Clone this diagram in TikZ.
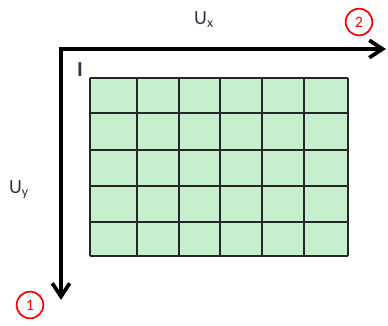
\documentclass[tikz,border=0pt]{standalone}
\usepackage{fontspec}
\setmainfont{Carlito}
\usetikzlibrary{arrows.meta,positioning}
\definecolor{cellgreen}{HTML}{C6EFCE}
\definecolor{labelgray}{HTML}{2E3648}

\begin{document}
\begin{tikzpicture}[
  x=0.75pt, y=-0.75pt,
  axis/.style={line width=3.2pt, line cap=rect,
               -{Straight Barb[length=10pt,width=13pt,line width=2.8pt]}},
  gridline/.style={line width=1.3pt, draw=black!85},
  axislabel/.style={font=\fontsize{15}{17}\selectfont, text=labelgray, inner sep=1pt},
  marker/.style={draw=red, circle, line width=1.3pt, text=red,
                 minimum size=20pt, inner sep=0pt, font=\fontsize{12}{14}\selectfont}
]
\useasboundingbox (0,0) rectangle (388,325);

% cells
\fill[cellgreen] (90,78) rectangle (348,256);
\foreach \x in {90,137,179,220,262,304,348}
  \draw[gridline] (\x,78) -- (\x,256);
\foreach \y in {78,113,150,186,222,256}
  \draw[gridline] (90,\y) -- (348,\y);

% axes
\coordinate (origin) at (61,49);
\coordinate (xend) at (386,49);
\coordinate (yend) at (61,300);
\draw[axis] (origin) -- (xend);
\draw[axis] (origin) -- (yend);

\node[axislabel] (ux) at (204,20) {U\textsubscript{x}};
\node[axislabel] (uy) at (19,190) {U\textsubscript{y}};
\node[axislabel, font=\fontsize{16}{18}\selectfont\bfseries] (start) at (80,70) {I};

\node[marker] (m2) at (359,22) {2};
\node[marker] (m1) at (30,305) {1};
\end{tikzpicture}
\end{document}
